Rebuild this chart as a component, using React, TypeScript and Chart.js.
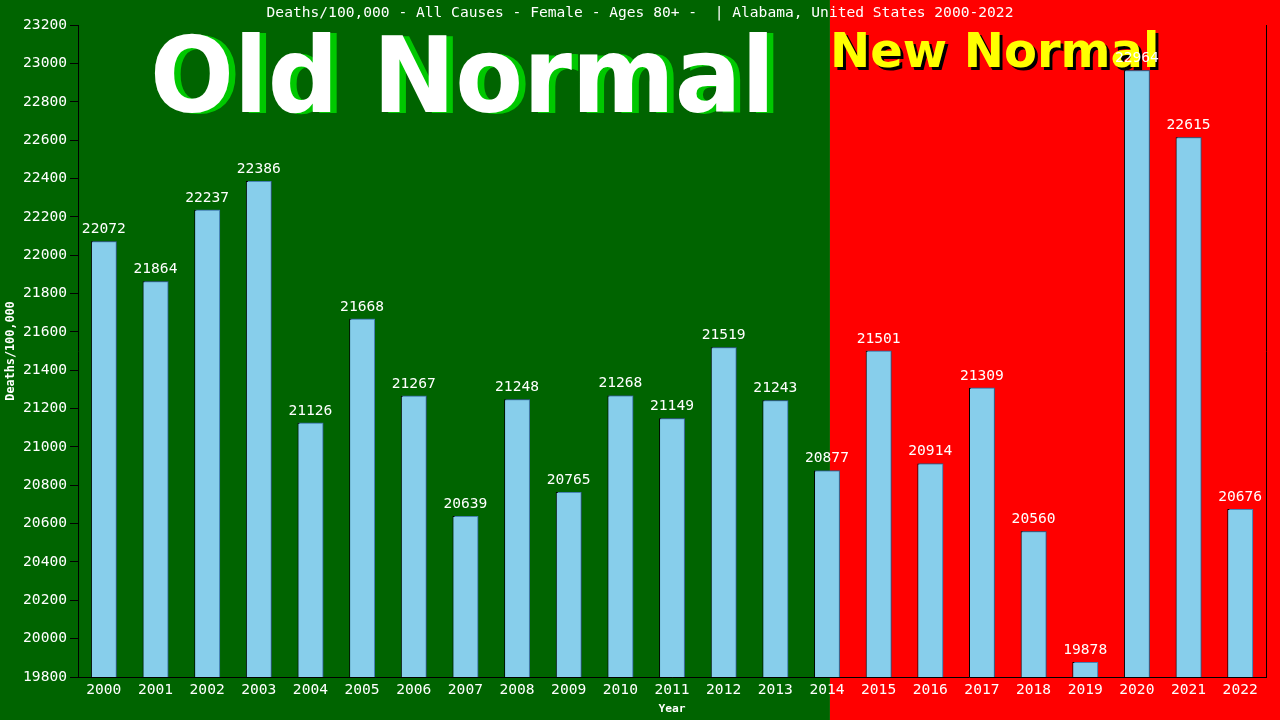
import {useEffect, useRef} from 'react'
import {Chart, registerables} from 'chart.js'
import type {ChartOptions, Plugin} from 'chart.js'

Chart.register(...registerables)

const years = ['2000', '2001', '2002', '2003', '2004', '2005', '2006', '2007', '2008', '2009', '2010', '2011',
    '2012', '2013', '2014', '2015', '2016', '2017', '2018', '2019', '2020', '2021', '2022']
const deathRates = [22072, 21864, 22237, 22386, 21126, 21668, 21267, 20639, 21248, 20765, 21268, 21149,
    21519, 21243, 20877, 21501, 20914, 21309, 20560, 19878, 22964, 22615, 20676]
const yMin = 19800
const yMax = 23200
const yStep = 200
const newNormalStartIndex = 14

const titleText = 'Deaths/100,000 - All Causes - Female - Ages 80+ -  | Alabama, United States 2000-2022'
const mono = '"DejaVu Sans Mono", monospace'

const oldGreen = '#006400'
const newRed = '#ff0000'

// split background + the two big banners
const backdropPlugin: Plugin<'bar'> = {
    id: 'backdrop',
    beforeDraw(chart) {
        const {ctx, width, height} = chart
        const split = chart.scales.x.getPixelForValue(newNormalStartIndex) + 3
        ctx.save()
        ctx.fillStyle = oldGreen
        ctx.fillRect(0, 0, split, height)
        ctx.fillStyle = newRed
        ctx.fillRect(split, 0, width - split, height)
        ctx.restore()
    },
    beforeDatasetsDraw(chart) {
        const {ctx} = chart
        const split = chart.scales.x.getPixelForValue(newNormalStartIndex) + 3
        ctx.save()
        ctx.textBaseline = 'alphabetic'
        ctx.textAlign = 'left'

        // Old Normal
        ctx.save()
        ctx.translate(150, 112)
        ctx.scale(0.94, 1)
        ctx.font = 'bold 105px "DejaVu Sans"'
        ctx.fillStyle = '#00c800'
        ctx.fillText('Old Normal', 7, 1)
        ctx.fillStyle = '#ffffff'
        ctx.fillText('Old Normal', 0, 0)
        ctx.restore()

        // New Normal
        ctx.font = 'bold 48px "DejaVu Sans"'
        ctx.fillStyle = '#000000'
        ctx.fillText('New Normal', split + 3, 70)
        ctx.fillStyle = '#ffff00'
        ctx.fillText('New Normal', split, 67)
        ctx.restore()
    },
}

const barShadowPlugin: Plugin<'bar'> = {
    id: 'barShadow',
    beforeDatasetDraw(chart) {
        const {ctx} = chart
        ctx.save()
        ctx.shadowColor = '#4682b4'
        ctx.shadowOffsetX = 1
        ctx.shadowOffsetY = -1
        ctx.shadowBlur = 0
    },
    afterDatasetDraw(chart) {
        chart.ctx.restore()
    },
}

const valueLabelPlugin: Plugin<'bar'> = {
    id: 'valueLabels',
    afterDatasetsDraw(chart) {
        const {ctx} = chart
        const meta = chart.getDatasetMeta(0)
        ctx.save()
        ctx.font = `14.6px ${mono}`
        ctx.fillStyle = '#ffffff'
        ctx.textAlign = 'center'
        ctx.textBaseline = 'alphabetic'
        meta.data.forEach((bar, i) => {
            ctx.fillText(String(deathRates[i]), bar.x, bar.y - 8)
        })
        ctx.restore()
    },
}

function DeathsChart() {
    const canvasRef = useRef<HTMLCanvasElement>(null)
    const chartRef = useRef<Chart<'bar'> | null>(null)

    useEffect(() => {
        document.body.style.margin = '0'
        if (!canvasRef.current) return
        chartRef.current?.destroy()

        const options: ChartOptions<'bar'> = {
            responsive: true,
            maintainAspectRatio: false,
            animation: false,
            layout: {padding: 0},
            plugins: {
                legend: {display: false},
                tooltip: {enabled: false},
                title: {
                    display: true,
                    text: titleText,
                    color: '#ffffff',
                    font: {family: mono, size: 14.6, weight: 'normal'},
                    padding: {top: 4, bottom: 3.5},
                },
            },
            scales: {
                x: {
                    offset: true,
                    grid: {display: false, drawTicks: false},
                    border: {display: true, color: '#000000', width: 1},
                    ticks: {color: '#ffffff', font: {family: mono, size: 14.6}, padding: 4, maxRotation: 0, autoSkip: false},
                    title: {
                        display: true,
                        text: 'Year',
                        color: '#ffffff',
                        font: {family: mono, size: 11.3, weight: 'bold'},
                        padding: {top: 0, bottom: 4},
                    },
                    afterFit: (scale) => {
                        scale.height = 43
                    },
                },
                y: {
                    min: yMin,
                    max: yMax,
                    grid: {drawOnChartArea: false, drawTicks: true, tickLength: 8, color: '#000000'},
                    border: {display: true, color: '#000000', width: 1},
                    ticks: {
                        stepSize: yStep,
                        color: '#ffffff',
                        font: {family: mono, size: 14.6},
                        padding: 3,
                        autoSkip: false,
                        callback: (value) => String(value),
                    },
                    title: {
                        display: true,
                        text: 'Deaths/100,000',
                        color: '#ffffff',
                        font: {family: mono, size: 11.8, weight: 'bold'},
                        padding: {top: 4, bottom: 0},
                    },
                    afterFit: (scale) => {
                        scale.width = 78
                    },
                },
                yRight: {
                    position: 'right',
                    min: yMin,
                    max: yMax,
                    grid: {display: false},
                    border: {display: true, color: '#000000', width: 1},
                    ticks: {display: false},
                    afterFit: (scale) => {
                        scale.width = 14
                    },
                },
            },
        }

        chartRef.current = new Chart(canvasRef.current, {
            type: 'bar',
            data: {
                labels: years,
                datasets: [
                    {
                        label: 'Deaths/100,000',
                        data: deathRates,
                        backgroundColor: '#87ceeb',
                        borderColor: '#000000',
                        borderWidth: 1,
                        barPercentage: 0.5,
                        categoryPercentage: 1,
                        yAxisID: 'y',
                    },
                ],
            },
            options,
            plugins: [backdropPlugin, barShadowPlugin, valueLabelPlugin],
        })

        return () => {
            chartRef.current?.destroy()
            chartRef.current = null
        }
    }, [])

    return (
        <div style={{width: 1280, height: 720, position: 'relative'}}>
            <canvas ref={canvasRef}/>
        </div>
    )
}

export default function App() {
    return <DeathsChart/>
}
